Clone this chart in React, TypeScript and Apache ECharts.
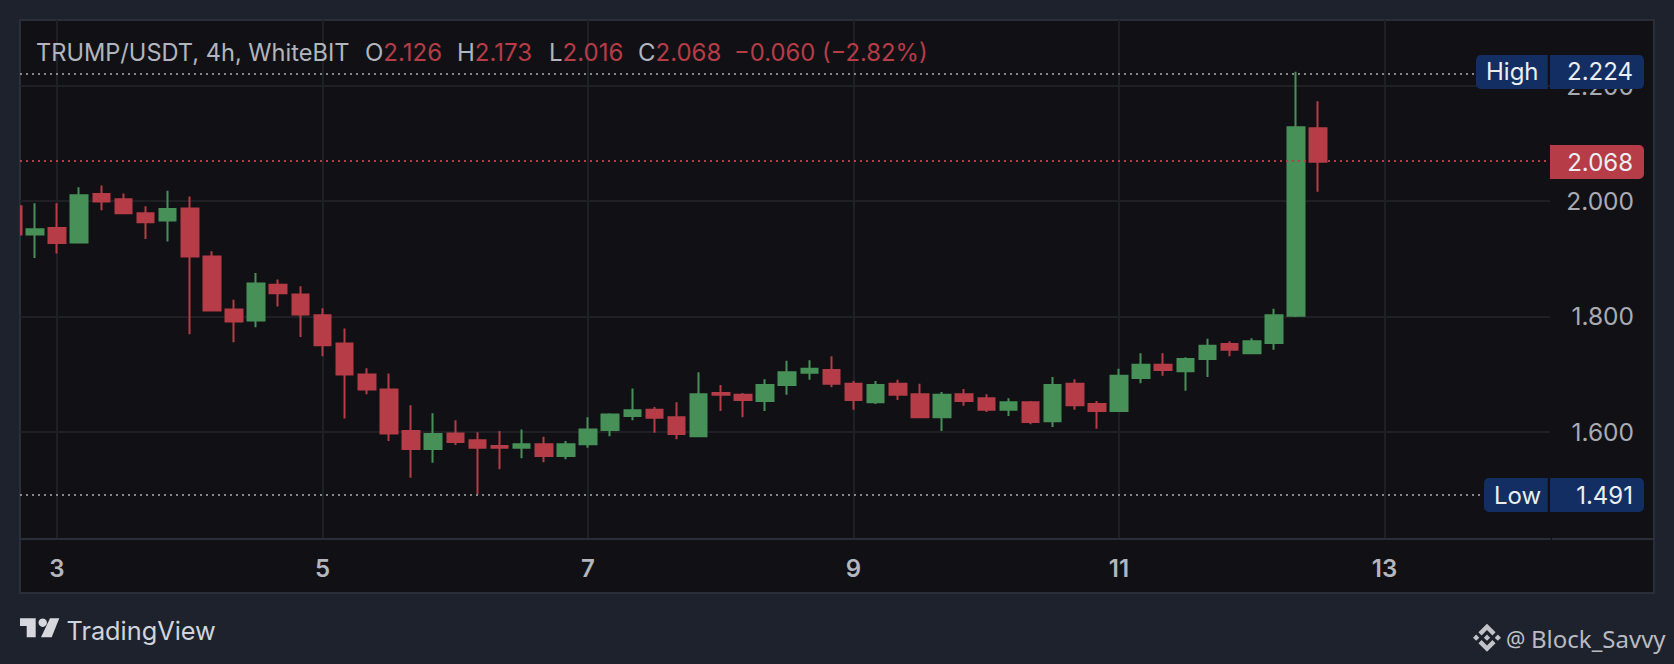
import React, { useEffect, useRef } from "react";
import * as echarts from "echarts";

const opens = [1.991,1.942,1.953,1.928,2.012,2.003,1.979,1.966,1.987,1.904,1.812,1.793,1.855,1.838,1.802,1.753,1.699,1.673,1.601,1.570,1.597,1.585,1.575,1.572,1.578,1.558,1.578,1.603,1.627,1.638,1.625,1.592,1.667,1.664,1.653,1.681,1.702,1.707,1.683,1.651,1.683,1.665,1.625,1.665,1.658,1.638,1.651,1.618,1.683,1.648,1.636,1.693,1.716,1.705,1.726,1.752,1.736,1.754,1.801,2.126];
const closes = [1.942,1.951,1.927,2.010,1.999,1.979,1.963,1.986,1.904,1.810,1.791,1.857,1.840,1.803,1.750,1.699,1.673,1.597,1.570,1.596,1.582,1.572,1.572,1.578,1.558,1.578,1.604,1.630,1.637,1.624,1.596,1.665,1.664,1.655,1.681,1.703,1.709,1.683,1.655,1.681,1.664,1.625,1.664,1.653,1.638,1.651,1.617,1.681,1.646,1.636,1.697,1.716,1.707,1.726,1.749,1.742,1.757,1.802,2.128,2.068];
const highs = [1.991,1.996,1.996,2.024,2.027,2.013,1.991,2.018,2.008,1.913,1.829,1.875,1.864,1.852,1.814,1.779,1.710,1.701,1.646,1.632,1.620,1.599,1.601,1.604,1.591,1.584,1.625,1.632,1.675,1.643,1.651,1.703,1.681,1.667,1.691,1.723,1.724,1.731,1.688,1.688,1.690,1.683,1.669,1.674,1.665,1.658,1.653,1.695,1.691,1.653,1.709,1.736,1.736,1.729,1.761,1.757,1.762,1.813,2.224,2.173];
const lows = [1.942,1.901,1.909,1.927,1.984,1.977,1.934,1.930,1.769,1.809,1.755,1.781,1.817,1.764,1.731,1.623,1.665,1.584,1.520,1.546,1.577,1.491,1.535,1.554,1.547,1.552,1.572,1.592,1.620,1.598,1.587,1.591,1.636,1.625,1.636,1.664,1.690,1.677,1.638,1.648,1.655,1.624,1.601,1.645,1.634,1.627,1.613,1.608,1.638,1.605,1.634,1.684,1.697,1.671,1.695,1.731,1.736,1.742,1.799,2.016];
const firstBarDay = 3 - 2 / 6;
const barsPerDay = 6;
const dayTicks = [3, 5, 7, 9, 11, 13];
const priceTicks = [1.6, 1.8, 2.0, 2.2];
const HIGH = 2.224;
const LOW = 1.491;
const LAST = 2.068;
const ohlcParts: [string, string, number][] = [
  ["O", "2.126", 365],
  ["H", "2.173", 457],
  ["L", "2.016", 549],
  ["C", "2.068", 638],
];
const symbolText = "TRUMP/USDT, 4h, WhiteBIT";
const changeText = "\u22120.060 (\u22122.82%)";

const FONT = "Inter";
const OUTER = "#1e222d";
const PANEL = "#111115";
const BORDER = "#2a2e39";
const GRID = "#1f2025";
const GREY = "#b2b5be";
const RED = "#b63c47";
const GREEN = "#479158";
const NAVY = "#132e63";
const WHITE = "#eceef2";

function text(s: string, x: number, y: number, fill: string, fontSize = 24, extra: any = {}) {
  return {
    type: "text", x, y, z: 100,
    style: { text: s, fill, fontSize, fontFamily: FONT, textVerticalAlign: "middle", ...extra },
  };
}
function badge(x: number, y: number, w: number, h: number, fill: string, r: number[]) {
  return { type: "rect", z: 99, shape: { x, y, width: w, height: h, r }, style: { fill } };
}

const binance = [
  [[9.8,13.4],[16,7.2],[22.2,13.4],[25.8,9.8],[16,0],[6.2,9.8]],
  [[0,16],[3.6,12.4],[7.2,16],[3.6,19.6]],
  [[9.8,18.6],[16,24.8],[22.2,18.6],[25.8,22.2],[16,32],[6.2,22.2]],
  [[24.8,16],[28.4,12.4],[32,16],[28.4,19.6]],
  [[19.6,16],[16,12.4],[12.4,16],[16,19.6]],
];

export default function App() {
  const ref = useRef<HTMLDivElement>(null);
  useEffect(() => {
    document.body.style.margin = "0";
    document.body.style.background = OUTER;
    const chart = echarts.init(ref.current!, undefined, { renderer: "svg" });
    const data = opens.map((o, i) => [firstBarDay + i / barsPerDay, o, closes[i], lows[i], highs[i]]);
    const dotted = (v: number, color: string) => ({
      yAxis: v,
      lineStyle: { color, width: 2, type: [2, 4] as any, opacity: 1 },
    });
    chart.setOption({
      animation: false,
      backgroundColor: OUTER,
      grid: { left: 20, top: 20, width: 1530, height: 519 },
      xAxis: {
        type: "value",
        min: 3 - 37 / 132.75,
        max: 3 + 1493 / 132.75,
        axisLine: { show: true, lineStyle: { color: BORDER, width: 2 } },
        axisTick: { show: false, customValues: dayTicks },
        splitLine: { show: true, lineStyle: { color: GRID, width: 2 } },
        axisLabel: {
          customValues: dayTicks, margin: 17, color: "#b4b6bd", fontSize: 24,
          fontWeight: 600, fontFamily: FONT, formatter: (v: number) => String(v),
        },
      },
      yAxis: {
        type: "value",
        position: "right",
        min: 1.4139,
        max: 2.3139,
        scale: true,
        axisLine: { show: false },
        axisTick: { show: false, customValues: priceTicks },
        splitLine: { show: true, lineStyle: { color: GRID, width: 2 } },
        axisLabel: {
          customValues: priceTicks, margin: 84, align: "right", color: "#a9abb3", fontSize: 24.5,
          fontFamily: FONT, formatter: (v: number) => v.toFixed(3),
        },
      },
      series: [
        {
          type: "candlestick",
          data,
          encode: { x: 0, y: [1, 2, 3, 4] },
          barWidth: 17,
          clip: true,
          itemStyle: {
            color: GREEN, color0: RED, borderColor: GREEN, borderColor0: RED,
            borderColorDoji: RED, borderWidth: 2,
          },
          markLine: {
            silent: true,
            symbol: "none",
            label: { show: false },
            animation: false,
            data: [dotted(HIGH, "#85868e"), dotted(LOW, "#85868e"), dotted(LAST, RED)],
          },
        },
      ],
      graphic: [
        { type: "rect", z: -10, shape: { x: 20, y: 20, width: 1634, height: 573 },
          style: { fill: PANEL, stroke: BORDER, lineWidth: 2 } },
        { type: "rect", z: 50, shape: { x: 0, y: 21, width: 19, height: 571 }, style: { fill: OUTER } },
        { type: "line", z: 51, shape: { x1: 19.5, y1: 20, x2: 19.5, y2: 593 }, style: { stroke: BORDER, lineWidth: 1 } },
        { type: "line", z: 1, shape: { x1: 1552, y1: 539, x2: 1654, y2: 539 }, style: { stroke: BORDER, lineWidth: 2 } },
        text(symbolText, 36, 52, GREY, 23.6),
        ...ohlcParts.map(([k, v, x]) => ({
          type: "text", x, y: 52, z: 100,
          style: {
            text: `{k|${k}}{v|${v}}`,
            textVerticalAlign: "middle",
            rich: {
              k: { fill: GREY, fontSize: 24, fontFamily: FONT },
              v: { fill: RED, fontSize: 24, fontFamily: FONT },
            },
          },
        })),
        text(changeText, 734, 52, RED, 23.8),
        badge(1476, 55, 71.7, 34, NAVY, [5, 0, 0, 5]),
        badge(1550, 55, 94, 34, NAVY, [0, 5, 5, 0]),
        text("High", 1486, 71, WHITE),
        text("2.224", 1633, 71, WHITE, 24, { textAlign: "right" }),
        badge(1550, 145, 94, 34, RED, [0, 5, 5, 0]),
        text("2.068", 1633, 162, WHITE, 24, { textAlign: "right" }),
        badge(1484, 478, 63.7, 34, NAVY, [5, 0, 0, 5]),
        badge(1550, 478, 94, 34, NAVY, [0, 5, 5, 0]),
        text("Low", 1494, 495, WHITE),
        text("1.491", 1633, 495, WHITE, 24, { textAlign: "right" }),
        { type: "polygon", z: 100, shape: { points: [[20,618.3],[35.7,618.3],[35.7,637.3],[26.7,637.3],[26.7,625.9],[20,625.9]] }, style: { fill: "#d6d8de" } },
        { type: "circle", z: 100, shape: { cx: 42.7, cy: 622.7, r: 4.2 }, style: { fill: "#d6d8de" } },
        { type: "polygon", z: 100, shape: { points: [[59.3,618.3],[50,618.3],[41,637.3],[51.7,637.3]] }, style: { fill: "#d6d8de" } },
        text("TradingView", 66.5, 630, "#d1d4dc", 25.3),
        {
          type: "group", x: 1473, y: 623.7, scaleX: 0.875, scaleY: 0.875, z: 100,
          children: binance.map((points) => ({ type: "polygon", z: 100, shape: { points }, style: { fill: "#c2c3c7" } })),
        },
        text("@", 1506, 638, "#c2c3c7", 21.5, { fontFamily: "Noto Sans" }),
        text("Block_Savvy", 1531, 638, "#b9bbc0", 24, { fontFamily: "Noto Sans" }),
      ],
    });
    return () => chart.dispose();
  }, []);
  return <div ref={ref} style={{ width: 1674, height: 664 }} />;
}
